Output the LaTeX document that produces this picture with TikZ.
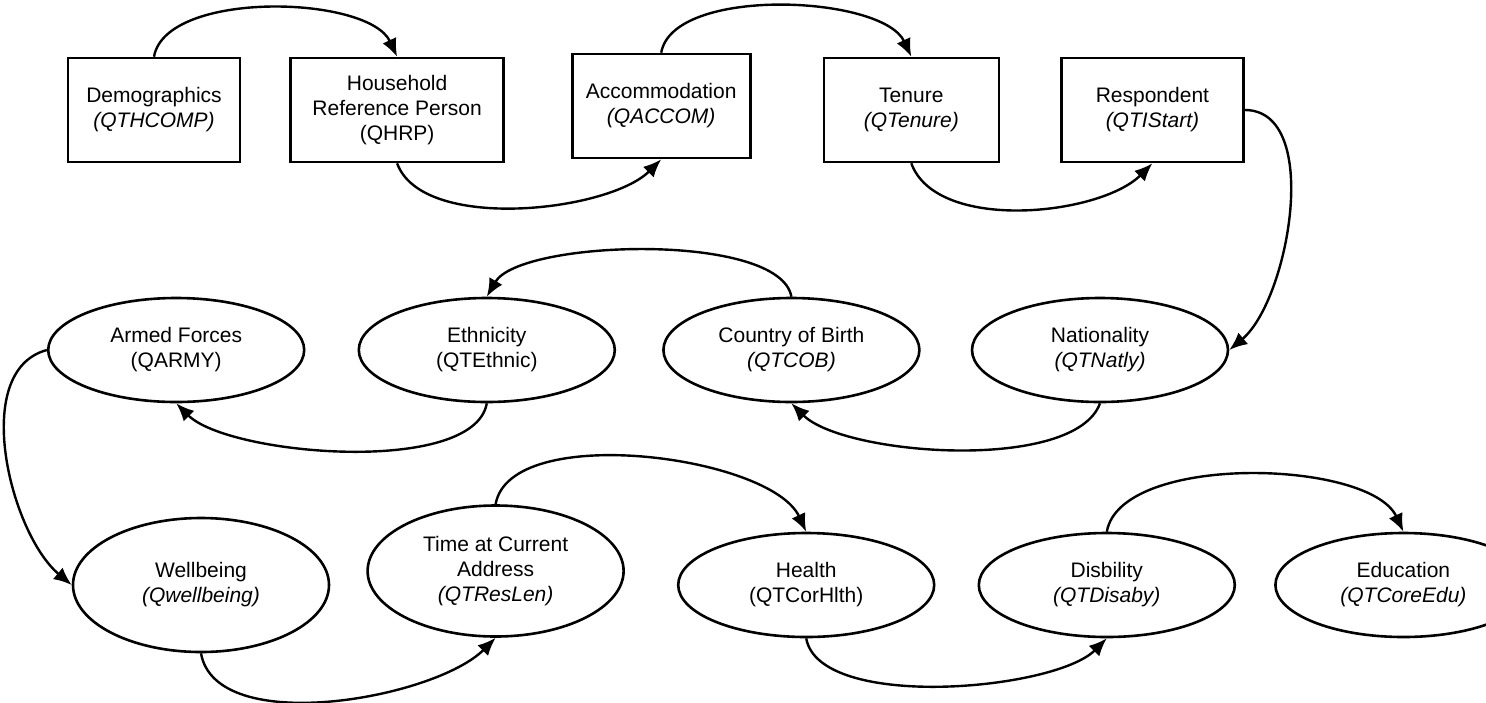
\documentclass[tikz,border=0pt]{standalone}
\usepackage{fontspec}
\setmainfont{Liberation Sans}
\usetikzlibrary{shapes, arrows.meta, positioning}

\begin{document}
\begin{tikzpicture}[>={Latex[length=9pt, width=7.5pt]},
  qbox/.style={draw, rectangle, line width=1.3pt, minimum height=52pt,
    inner sep=0pt, align=center, font=\fontsize{10.5}{12.5}\selectfont},
  qell/.style={draw, ellipse, line width=1.3pt, minimum width=128pt,
    minimum height=52pt, inner sep=0pt, align=center,
    font=\fontsize{10.5}{12.5}\selectfont},
  flow/.style={->, line width=1.2pt}]

\useasboundingbox (0,0) rectangle (743pt,-351pt);

\node[qbox, minimum width=86pt] (demog) at (77pt,-55pt) {Demographics\\\textit{(QTHCOMP)}};
\node[qbox, minimum width=106.5pt, right = 24pt of demog] (hrp) {Household\\Reference Person\\(QHRP)};
\node[qbox, minimum width=89pt, right = 33pt of hrp, yshift=2pt] (accom) {Accommodation\\\textit{(QACCOM)}};
\node[qbox, minimum width=87.5pt, right = 35.5pt of accom, yshift=-2pt] (tenure) {Tenure\\\textit{(QTenure)}};
\node[qbox, minimum width=91pt, right = 30pt of tenure] (resp) {Respondent\\\textit{(QTIStart)}};

\node[qell] (nat) at (550pt,-175pt) {Nationality\\\textit{(QTNatly)}};
\node[qell, left = 25pt of nat] (cob) {Country of Birth\\\textit{(QTCOB)}};
\node[qell, left = 23pt of cob] (ethnic) {Ethnicity\\(QTEthnic)};
\node[qell, left = 26pt of ethnic] (army) {Armed Forces\\(QARMY)};

\node[qell, minimum height=67pt] (wellb) at (100.5pt,-292.5pt) {Wellbeing\\\textit{(Qwellbeing)}};
\node[qell, minimum height=65.5pt, right = 18pt of wellb, yshift=7pt] (reslen) {Time at Current\\Address\\\textit{(QTResLen)}};
\node[qell, right = 26pt of reslen, yshift=-7pt] (health) {Health\\(QTCorHlth)};
\node[qell, right = 21pt of health] (disab) {Disbility\\\textit{(QTDisaby)}};
\node[qell, right = 19pt of disab] (edu) {Education\\\textit{(QTCoreEdu)}};

\draw[flow] (demog.north) to[out=80, in=115, distance=34pt] (hrp.north);
\draw[flow] (hrp.south) to[out=-70, in=-135, distance=37pt] (accom.south);
\draw[flow] (accom.north) to[out=80, in=115, distance=34pt] (tenure.north);
\draw[flow] (tenure.south) to[out=-70, in=-135, distance=37pt] (resp.south);
\draw[flow] (resp.east) to[out=0, in=40, distance=39pt] (nat.east);

\draw[flow] (nat.south) to[out=-110, in=-45, distance=37pt] (cob.south);
\draw[flow] (cob.north) to[out=100, in=60, distance=33pt] (ethnic.north);
\draw[flow] (ethnic.south) to[out=-100, in=-45, distance=37pt] (army.south);
\draw[flow] (army.west) to[out=195, in=140, distance=40pt] (wellb.west);

\draw[flow] (wellb.south) to[out=-80, in=-135, distance=43pt] (reslen.south);
\draw[flow] (reslen.north) to[out=80, in=115, distance=42pt] (health.north);
\draw[flow] (health.south) to[out=-80, in=-135, distance=37pt] (disab.south);
\draw[flow] (disab.north) to[out=80, in=115, distance=40pt] (edu.north);

\end{tikzpicture}
\end{document}
